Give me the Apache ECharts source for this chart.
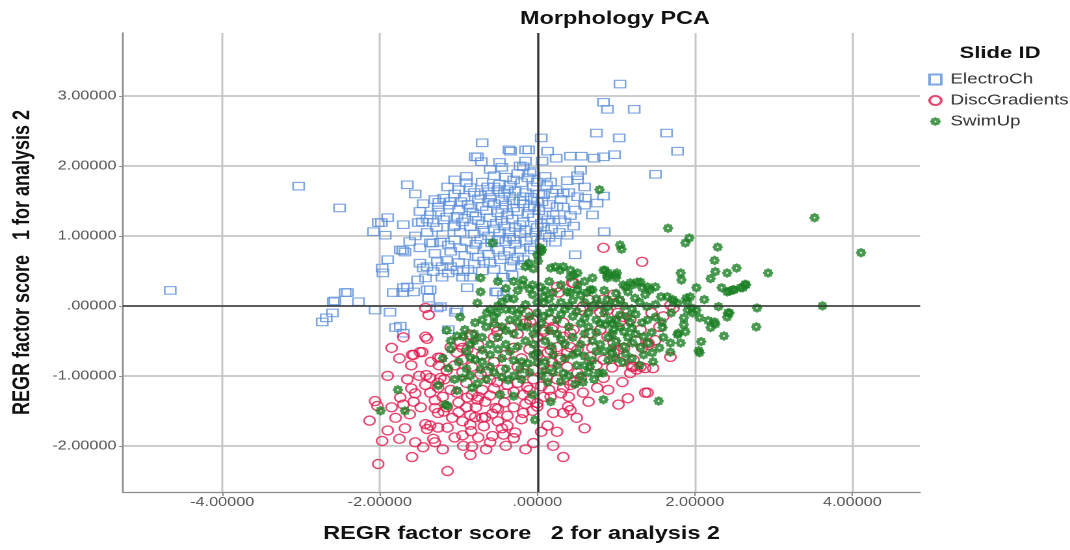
<!DOCTYPE html>
<html>
<head>
<meta charset="utf-8">
<script src="https://cdn.jsdelivr.net/npm/echarts@6/dist/echarts.min.js"></script>
<style>
html,body{margin:0;padding:0;background:#fff;overflow:hidden;}
#chart{width:823px;height:550px;transform:scaleX(1.30012);transform-origin:0 0;}
</style>
</head>
<body>
<div id="chart"></div>
<script>
// Tick positions shown on each axis
const xTicks = [-4, -2, 0, 2, 4];
const yTicks = [-2, -1, 0, 1, 2, 3];

// Factor scores [score 2, score 1] per slide group
const electroCh = [
  [-4.66,0.22],[-3.03,1.71],[-2.51,1.40],
  [-0.70,2.33],[-0.34,2.21],[-0.15,2.23],[-0.76,2.13],[-0.71,2.06],
  [-1.65,1.73],[-1.14,1.70],[-1.00,1.66],[-0.85,1.69],[-0.63,1.70],
  [-1.45,1.46],[-1.49,1.35],[-1.46,1.20],[-1.19,1.54],
  [-2.02,1.19],[-1.90,1.26],[-2.08,1.06],[-1.93,1.01],[-1.70,1.16],
  [-1.74,0.80],[-1.68,0.77],[-1.49,0.83],[-1.33,0.90],
  [-1.90,0.66],[-1.97,0.54],[-1.96,0.47],[-1.45,0.54],[-1.27,0.63],
  [-1.52,0.37],[-1.70,0.26],[-1.83,0.19],[-2.41,0.19],[-2.59,0.06],[-2.27,0.06],[-2.60,-0.10],[-2.06,-0.06],[-1.87,-0.09],
  [-1.36,0.23],[-1.21,0.41],[-1.10,0.56],[-0.95,0.41],[-0.89,0.26],[-0.53,0.20],[-0.43,0.41],[-1.02,-0.06],[-1.23,-0.01],
  [-2.73,-0.23],[-2.68,-0.17],[-1.74,-0.29],[-1.70,-0.39],
  [1.05,3.17],[0.84,2.91],[0.89,2.81],[1.23,2.81],[0.75,2.47],[1.04,2.40],[1.64,2.47],[1.78,2.21],[1.50,1.88],
  [0.98,2.16],[0.84,2.13],[0.72,2.11],[0.56,2.14],[0.42,2.14],[0.24,2.11],[0.13,2.21],[0.06,2.07],[0.05,2.40],[-0.11,2.23],[-0.36,2.23],[-0.79,2.13],
  [-0.15,2.07],[-0.22,2.00],[-0.25,1.89],[0.55,1.94],[0.51,1.86],
  [0.51,1.80],[0.38,1.79],[0.17,1.77],[0.00,1.77],
  [-0.18,1.99],[-0.09,1.90],[-0.05,1.92],
  [0.33,1.61],[0.19,1.61],[0.08,1.59],
  [0.51,1.56],[0.61,1.54],[0.76,1.47],[0.84,1.57],
  [0.48,1.37],[0.33,1.41],[0.42,1.29],[0.29,1.23],
  [0.13,1.23],[0.08,1.13],[0.46,1.14],
  [0.85,1.06],[0.38,1.01],[0.23,0.91],
  [-1.26,1.41],[-1.10,1.49],[-0.97,1.49],
  [-1.98,1.19],[-1.51,1.19],[-1.36,1.30],[-1.32,1.19],[-1.19,1.23],[-1.06,1.13],
  [-1.71,0.79],[-1.36,0.90],[-1.23,0.91],[-1.13,0.87],
  [-1.49,0.61],[-1.40,0.56],[-1.32,0.49],[-1.21,0.56],
  [-1.42,0.40],[-1.65,0.27],[-1.71,0.19],
  [-2.44,0.19],[-2.57,0.07],
  [-1.57,0.20],[-1.40,0.23],[-1.38,0.11],[-1.27,-0.03],
  [-1.04,-0.09],
  [-1.13,0.47],[-1.02,0.51],[-0.94,0.49],[-0.85,0.41],
  [-0.60,0.61],[-0.47,0.66],[-0.34,0.56],[-0.32,0.44],[-0.44,0.41],
  [-0.51,0.20],[-0.43,0.16],
  [-0.22,0.80],[-0.09,0.84],[-0.18,0.66],
  [0.48,0.73],
  [-1.80,-0.31],[-1.13,-0.34],
  [-0.60,1.95],[-0.45,1.98],[-0.48,2.05],
  [-0.55,1.86],[-0.40,1.84],[-0.30,1.80],[-0.12,1.83],[0.10,1.85],
  [-0.90,1.76],[-0.70,1.77],[-0.48,1.74],[-0.35,1.72],[-0.20,1.76],[-0.05,1.70],[0.12,1.72],
  [-1.05,1.60],[-0.80,1.62],[-0.62,1.63],[-0.50,1.66],[-0.42,1.60],[-0.28,1.64],[-0.15,1.62],[0.02,1.60],[0.24,1.66],
  [-1.30,1.52],[-0.93,1.55],[-0.75,1.53],[-0.60,1.55],[-0.45,1.52],[-0.35,1.57],[-0.22,1.50],[-0.08,1.55],[0.06,1.49],[0.30,1.52],
  [-1.12,1.44],[-0.88,1.45],[-0.70,1.42],[-0.55,1.46],[-0.40,1.44],[-0.30,1.40],[-0.18,1.46],[-0.04,1.42],[0.15,1.45],[0.60,1.44],
  [-1.25,1.34],[-1.00,1.37],[-0.82,1.33],[-0.65,1.36],[-0.50,1.33],[-0.38,1.30],[-0.25,1.35],[-0.12,1.32],[0.02,1.36],[0.20,1.30],
  [-1.40,1.24],[-1.15,1.27],[-0.92,1.25],[-0.75,1.22],[-0.60,1.26],[-0.45,1.22],[-0.32,1.24],[-0.18,1.20],[-0.05,1.26],[0.05,1.18],
  [-1.28,1.12],[-1.05,1.15],[-0.85,1.13],[-0.70,1.16],[-0.55,1.10],[-0.42,1.14],[-0.28,1.12],[-0.15,1.08],[0.00,1.12],[0.18,1.10],
  [-1.20,1.02],[-0.98,1.05],[-0.80,1.03],[-0.62,1.00],[-0.48,1.04],[-0.35,0.98],[-0.22,1.03],[-0.08,0.98],[0.10,1.02],[0.28,1.05],
  [-1.05,0.94],[-0.90,0.92],[-0.72,0.95],[-0.58,0.90],[-0.40,0.92],[-0.28,0.88],[-0.14,0.93],[0.05,0.90],
  [-0.98,0.83],[-0.82,0.80],[-0.66,0.84],[-0.50,0.80],[-0.35,0.78],[-0.04,0.80],
  [-0.92,0.72],[-0.75,0.70],[-0.62,0.74],[-0.42,0.72],[-0.25,0.70],
  [-1.00,0.62],[-0.80,0.60],[-0.68,0.64],[-0.20,0.58],
  [-0.95,1.20],[-0.78,1.28],[-0.68,1.08],[-0.52,1.18],[-0.36,1.06],[-0.22,1.16],[-0.10,1.40],[-0.30,1.50],[-0.45,1.38],
  [-0.62,1.48],[-0.85,1.40],[-1.02,1.28],[-0.72,1.58],[-0.55,1.70],[-0.38,1.66],[-0.18,1.56],[0.00,1.50],[0.10,1.30],
  [-0.02,1.05],[-0.30,0.95],[-0.50,0.95],[-0.78,0.88],[-1.10,0.78],[-1.30,0.75],[-1.15,0.65],[-0.88,0.52],[-0.70,0.50],
  [-0.55,0.52],[-0.30,0.64],[0.15,0.98],[0.35,1.20],[0.25,1.42],[0.40,1.62],[0.60,1.70],[0.70,1.30],[-1.55,1.00],
  [-1.40,1.05],[-1.62,0.92],[-1.25,1.48],[-1.55,1.60],[-0.90,1.85],[-1.05,1.80]
];

const discGradients = [
  [-2.06,-1.36],[-2.03,-1.43],[-2.13,-1.64],[-1.97,-1.93],[-2.02,-2.26],[-1.59,-2.16],[-1.14,-2.36],[0.33,-2.16],[-0.05,-1.96],
  [-0.94,-2.00],[-0.83,-2.01],[-0.57,-1.86],[-0.43,-1.84],[-0.30,-1.89],[-0.28,-1.81],[-0.38,-1.71],[-0.84,-1.79],[-1.32,-1.90],
  [-1.42,-1.69],[-1.36,-1.71],[-1.40,-1.76],[-1.26,-1.74],[-1.14,-1.74],[0.13,-1.71],
  [-0.66,-1.59],[-0.53,-1.46],[-0.50,-1.47],[-0.38,-1.57],
  [-0.18,-1.53],[-0.06,-1.50],[0.00,-1.44],
  [0.20,-1.53],[0.33,-1.53],[0.39,-1.44],[0.42,-1.49],
  [0.65,-1.37],[1.03,-1.41],[1.37,-1.24],[1.08,-1.09],[0.58,-1.24],[0.42,-1.13],[0.33,-1.17],
  [-1.70,-1.41],[-1.57,-1.37],[-1.74,-1.31],
  [-1.36,-1.24],[-1.30,-1.46],[-1.26,-1.53],[-1.19,-1.51],
  [-1.42,-1.13],[-1.26,-1.17],[-1.10,-1.20],[-1.02,-1.24],[-0.89,-1.31],[-0.83,-1.27],[-0.76,-1.34],[-0.66,-1.37],
  [-0.85,-1.56],[-0.79,-1.59],[-0.57,-1.54],
  [-1.41,-0.99],[-1.36,-1.03],[-1.23,-1.03],[-1.26,-1.10],
  [-1.49,-0.66],[-1.59,-0.70],[-1.26,-0.74],[-1.40,-0.47],
  [-1.10,-0.59],[-1.02,-0.67],[-0.95,-0.77],[-0.83,-0.43],
  [-0.98,-0.51],[-0.89,-0.63],[-0.75,-0.56],
  [-0.83,-0.87],[-0.64,-0.94],[-0.45,-0.91],[-0.25,-0.87],[-0.18,-0.96],[-0.05,-0.91],[0.08,-0.84],[0.19,-0.81],
  [-0.51,-1.09],[-0.38,-1.13],[-0.25,-1.10],[-0.13,-1.16],[-0.18,-1.27],[-0.30,-1.23],
  [-0.09,-1.34],[0.00,-1.39],[0.08,-1.30],[0.17,-1.30],
  [0.55,-1.03],[0.46,-1.09],[0.76,-1.17],[0.84,-1.03],
  [0.29,-0.74],[0.38,-0.67],[0.51,-0.63],[0.67,-0.73],[0.84,-0.77],[0.97,-0.67],[1.10,-0.60],
  [1.20,-0.87],[1.26,-0.91],[1.37,-0.89],
  [1.33,-0.60],[1.41,-0.56],
  [-0.51,-0.37],[-0.34,-0.31],
  [0.08,-0.34],[0.20,-0.30],[0.33,-0.24],[0.42,-0.39],
  [0.08,-0.53],[0.17,-0.63],
  [0.84,0.83],[1.33,0.63],[0.46,0.33],[0.25,0.27],[0.27,0.19],[0.97,0.16],[0.84,0.09],[1.03,0.06],[0.65,0.09],[0.58,-0.01],
  [-0.13,-0.10],[-0.06,-0.20],[1.73,-0.03],[1.69,0.01],[1.50,-0.49],[1.41,-0.53],[1.69,-0.73],
  [1.22,-0.87],[1.47,-0.89],[1.40,-1.24],
  [-1.42,-0.03],[-1.38,-0.13],[-1.42,-0.44],[-1.57,-0.70],[-1.46,-0.66],
  [-1.23,-0.74],[-0.95,-0.60],[-0.85,-0.41],[-0.53,-0.30],[-0.09,-0.23],
  [0.44,0.33],[0.71,-0.01],[1.02,-0.10],[1.05,-0.23],[0.17,-0.20],[0.08,-0.37],
  [0.55,-0.06],[0.80,-0.09],[0.89,-0.06],
  [0.46,-0.34],[0.67,-0.39],[0.80,-0.34],
  [1.09,-0.16],[1.18,-0.20],[1.31,-0.34],
  [0.89,-0.44],[0.97,-0.53],[1.02,-0.63],
  [0.19,-0.34],[0.33,-0.44],[0.25,-0.59],[0.42,-0.59],[0.13,-0.67],[0.29,-0.77],[0.38,-0.87],[0.17,-0.91],[0.51,-0.96],
  [1.22,-0.77],[1.31,-0.87],[1.18,-0.96],
  [-1.05,-0.85],[-0.95,-0.95],[-1.15,-0.92],[-1.20,-1.30],[-1.00,-1.38],[-0.90,-1.45],[-0.70,-1.20],[-0.60,-1.05],[-0.72,-0.98],
  [-0.55,-0.80],[-0.40,-0.70],[-0.30,-0.60],[-0.20,-0.75],[-0.10,-0.62],[0.00,-0.70],[-0.05,-1.05],[0.05,-1.15],[0.12,-1.02],
  [0.25,-1.05],[0.30,-1.25],[-0.42,-1.38],[-0.60,-1.28],[-0.78,-1.45],[-1.08,-1.60],[-0.95,-1.65],[-0.68,-1.72],[-0.20,-1.62],
  [0.05,-1.80],[-1.50,-1.00],[-1.60,-1.18],[-1.55,-1.25],[-1.85,-1.45],[-1.80,-1.60],[-1.68,-1.75],[-1.90,-1.78],[-1.75,-1.90],
  [-1.55,-1.95],[-1.45,-2.02],[-1.05,-1.88],[-0.95,-1.85],[-0.65,-2.05],[-0.40,-2.00],[-0.15,-2.05],[0.50,-1.60],[0.60,-1.75],
  [0.20,-2.00],[-0.85,-2.13],[-0.55,-0.45],[-0.70,-0.70],[-0.25,-0.40],[-0.15,-0.25],[0.00,-0.45],[0.60,-0.50],[0.70,-0.60],
  [0.75,-0.85],[0.95,-0.88],[1.05,-0.80],[0.90,-1.20],[1.15,-1.32],[1.25,-0.50],[1.55,-0.30],[1.60,-0.15],[1.45,-0.10],
  [-1.70,-0.45],[-1.85,-0.60],[-1.75,-0.75],[-1.60,-0.85],[-1.90,-1.00],
  [-1.30,-1.35],[-1.15,-1.45],[-1.00,-1.52],[-0.85,-1.70],[-0.70,-1.60],[-0.50,-1.65],[-0.30,-1.45],[-0.15,-1.40],[-1.25,-0.85],
  [-1.35,-0.80],[-1.18,-1.05],[-0.90,-1.10],[-0.75,-1.30],[-0.55,-1.18],[-0.40,-1.25],[-0.10,-1.20],[0.15,-1.20],[0.40,-1.30],
  [-1.30,-1.95],[-1.20,-2.05],[-0.75,-1.88],[-0.45,-1.75],[-0.60,-1.95],[0.25,-1.80],[-1.65,-1.05],[-1.48,-1.45],[-1.62,-1.55]
];

const swimUp = [
  [3.52,1.26],[4.11,0.76],[3.62,0.00],
  [1.66,1.11],[1.93,0.97],[1.88,0.90],[2.29,0.84],[2.25,0.65],[2.26,0.49],[2.41,0.47],[2.53,0.54],[2.20,0.39],[2.93,0.47],
  [2.64,0.31],[2.58,0.26],[2.48,0.23],[2.41,0.20],[2.44,0.21],[2.12,0.09],[2.30,-0.01],[2.79,-0.03],[2.78,-0.30],[2.37,-0.43],
  [2.41,-0.16],[2.44,-0.10],[2.17,-0.21],[2.26,-0.26],[2.20,-0.31],[2.08,-0.51],[2.05,-0.64],[2.06,-0.67],
  [2.02,0.26],[1.94,0.13],[1.89,0.11],[1.82,0.47],[1.83,0.37],
  [1.05,0.87],[1.07,0.81],[0.86,0.51],[0.89,0.43],[0.99,0.44],[1.00,0.40],
  [1.31,0.34],[1.33,0.26],[1.12,0.27],[1.21,0.30],[1.50,0.27],[1.43,0.23],[1.37,0.16],
  [1.65,0.13],[1.72,0.09],[1.78,0.04],[1.91,-0.06],[1.97,-0.10],[1.86,-0.17],
  [1.59,-0.31],[1.78,-0.41],[1.82,-0.53],[1.69,-0.53],[1.69,-0.66],[1.46,-0.67],[1.47,-0.80],
  [1.35,-0.44],[1.41,-0.53],[1.31,-0.59],[1.21,-0.53],[1.09,-0.81],[0.95,-0.67],
  [1.54,-1.36],[0.84,-1.34],[0.83,-0.96],
  [1.86,-0.27],[1.88,-0.37],[1.79,-0.39],[2.06,-0.17],[2.02,-0.06],[1.96,-0.03],
  [1.24,0.11],[1.39,-0.01],[1.20,-0.04],[1.05,-0.13],[0.92,-0.20],[0.86,-0.27],[0.97,-0.34],[1.10,-0.37],[1.18,-0.24],[1.33,-0.24],[1.50,-0.16],[1.58,-0.23],
  [0.89,0.09],[0.90,-0.01],[0.99,0.04],[1.05,0.09],
  [0.79,1.66],[0.04,0.83],
  [2.34,0.26],[2.50,0.23],[2.61,0.26],[2.65,0.30],[2.25,-0.23],[2.42,-0.10],
  [-0.03,-1.63],[0.17,-1.37],[-0.47,-1.27],[-0.30,-1.29],[-1.17,-1.41],[-1.26,-1.14],[-1.77,-1.20],[-1.99,-1.50],[-1.14,-1.43],
  [-1.02,-1.21],[-0.76,-1.11],[-0.83,-1.17],[-0.06,-1.27],[-1.68,-1.50],
  [-0.57,0.90],[0.04,0.77],[0.00,0.73],[-0.11,0.61],[-0.15,0.56],
  [-0.72,0.40],[-0.72,0.20],[-0.76,0.04],
  [-0.98,-0.16],[-0.79,-0.24],[-0.92,-0.34],[-0.94,-0.44],
  [0.23,0.56],[0.29,0.51],[0.42,0.51],[0.46,0.44],
  [-0.18,0.37],[-0.06,0.30],[0.04,0.27],[-0.06,0.16],[0.08,0.13],
  [0.20,0.19],[0.38,0.20],[0.51,0.23],[0.63,0.19],[0.70,0.23],
  [0.84,0.51],[0.90,0.47],[1.01,0.47],[0.89,0.40],
  [1.09,0.30],[1.18,0.33],[1.27,0.34],[1.40,0.27],[1.57,0.13],
  [1.73,0.06],[1.90,0.06],
  [-0.38,0.11],[-0.19,0.30],[-0.10,0.24],[-0.05,0.53],[0.01,0.64],[0.06,0.80],
  [-0.64,-0.10],[-0.51,-0.10],[-0.32,-0.06],[-0.25,-0.23],[-0.13,-0.30],[0.00,-0.10],[0.08,0.04],
  [0.17,0.54],[0.33,0.56],[0.42,0.41],[0.51,0.47],
  [0.67,0.23],[0.51,0.30],[0.42,0.19],
  [-1.13,-0.89],[-0.95,-1.03],[-0.72,-0.91],[-0.60,-0.87],
  [-0.70,-0.63],[-0.79,-0.77],[-0.85,-0.74],
  [-0.37,-1.06],[-0.22,-0.91],[0.00,-0.81],[0.00,-0.67],[0.13,-1.09],
  [0.33,-0.96],[0.58,-1.09],[0.67,-0.87],[0.78,-0.96],[0.51,-0.67],
  [-0.55,-0.15],[-0.45,-0.30],[-0.35,-0.20],[-0.20,-0.05],[-0.10,-0.15],[0.05,-0.25],[0.15,-0.10],[0.25,-0.20],[0.35,-0.05],
  [0.45,-0.15],[0.55,-0.25],[0.65,-0.10],[0.75,-0.20],[0.85,-0.10],[0.95,-0.25],[1.05,-0.30],[1.15,-0.15],
  [-0.50,-0.45],[-0.40,-0.55],[-0.30,-0.40],[-0.15,-0.50],[-0.05,-0.40],[0.10,-0.50],[0.25,-0.40],[0.35,-0.55],[0.45,-0.45],
  [0.60,-0.40],[0.70,-0.50],[0.80,-0.55],[0.90,-0.45],[1.00,-0.50],[1.15,-0.45],[1.25,-0.40],
  [-0.60,-0.70],[-0.45,-0.75],[-0.35,-0.65],[-0.20,-0.80],[-0.05,-0.70],[0.10,-0.80],[0.20,-0.70],[0.35,-0.75],[0.50,-0.85],
  [0.60,-0.72],[0.70,-0.78],[0.85,-0.65],[1.00,-0.75],[1.12,-0.68],
  [-0.55,-0.95],[-0.40,-0.90],[-0.30,-1.00],[-0.10,-0.95],[0.05,-1.00],[0.20,-0.95],[0.40,-1.00],[0.55,-1.00],[0.65,-0.95],
  [0.00,0.05],[0.15,0.10],[0.30,0.05],[0.45,0.08],[0.60,0.05],[0.75,0.10],[0.30,0.30],[0.60,0.35],[0.70,0.40],[0.15,0.35],
  [-0.30,0.10],[-0.45,0.05],[-0.40,-0.05],
  [-1.10,-0.62],[-1.20,-0.75],[-1.00,-0.80],[-0.85,-0.55],[-0.70,-0.45],[-0.65,-0.30],
  [-1.02,-0.43],[-1.10,-0.50],[-1.15,-0.35],
  [-0.25,0.22],[0.10,0.22],[0.55,0.15],[0.85,0.22],[1.00,0.18],[1.15,0.20],
  [-0.50,0.00],[-0.15,0.02],[0.20,-0.02],[0.40,0.00],[0.70,0.00],[0.80,0.02],[1.10,0.00],[1.30,0.05],[1.50,0.02],
  [-0.60,-0.05],[-0.25,-0.12],[0.08,-0.15],[0.30,-0.12],[0.50,-0.08],[0.60,-0.18],[0.80,-0.25],[1.00,-0.20],[1.25,-0.12],
  [1.40,-0.20],[1.70,-0.10],
  [-0.70,-0.20],[-0.40,-0.35],[-0.20,-0.30],[0.00,-0.32],[0.15,-0.35],[0.40,-0.30],[0.65,-0.30],[0.75,-0.38],[0.95,-0.40],
  [1.20,-0.32],[1.45,-0.38],[1.60,-0.45],
  [-0.80,-0.50],[-0.60,-0.55],[-0.25,-0.58],[-0.05,-0.55],[0.18,-0.58],[0.30,-0.48],[0.55,-0.55],[0.75,-0.65],[0.95,-0.60],
  [1.10,-0.58],[1.35,-0.70],[1.55,-0.60],
  [-0.90,-0.65],[-0.70,-0.80],[-0.50,-0.62],[-0.30,-0.78],[-0.12,-0.82],[0.25,-0.85],[0.45,-0.70],[0.60,-0.85],[0.90,-0.78],
  [1.20,-0.75],[1.30,-0.85],
  [-0.85,-1.00],[-0.65,-1.05],[-0.45,-1.02],[-0.20,-1.05],[0.10,-0.92],[0.30,-1.08],[0.48,-1.12],[0.72,-1.05],
  [-0.90,-0.90],[-1.05,-1.05],[-0.80,-0.40],[-0.55,-0.25],[-0.40,0.25],[-0.30,0.35],[-0.50,0.35]
];

const fmt = v => (v === 0 ? '.00000' : v.toFixed(5));
const FONT = '"Liberation Sans", Arial, sans-serif';

// eight-spoke sunburst with a small open centre
const gear = 'path://M50 0L65.3 13L85.4 14.6L87 34.7L100 50L87 65.3L85.4 85.4L65.3 87L50 100L34.7 87L14.6 85.4L13 65.3L0 50L13 34.7L14.6 14.6L34.7 13ZM50 41L43.6 43.6L41 50L43.6 56.4L50 59L56.4 56.4L59 50L56.4 43.6Z';

const chart = echarts.init(document.getElementById('chart'), null, { devicePixelRatio: 2 });

chart.setOption({
  animation: false,
  backgroundColor: '#fff',
  textStyle: { fontFamily: FONT },
  title: [
    { text: 'Morphology PCA', left: 395, top: 5,
      textStyle: { fontFamily: FONT, fontSize: 18, fontWeight: 'bold', color: '#111' } },
    { text: 'Slide ID', left: 733, top: 40,
      textStyle: { fontFamily: FONT, fontSize: 17, fontWeight: 'bold', color: '#111' } }
  ],
  legend: {
    orient: 'vertical', left: 709, top: 66,
    itemWidth: 9, itemHeight: 10, itemGap: 4,
    data: ['ElectroCh', 'DiscGradients', 'SwimUp'],
    textStyle: { fontFamily: FONT, fontSize: 14.5, color: '#333', lineHeight: 17, padding: [0, 0, 0, 2] }
  },
  grid: { left: 94.6, right: 115.3, top: 33, bottom: 58 },
  xAxis: {
    type: 'value', min: -5.26, max: 4.86,
    axisLine: { show: true, onZero: false, lineStyle: { color: '#8c8c8c', width: 1.3 } },
    axisTick: { show: true, customValues: xTicks, length: 4, lineStyle: { color: '#8c8c8c', width: 1 } },
    axisLabel: { customValues: xTicks, formatter: fmt, color: '#555', fontSize: 12.5, margin: 4, fontFamily: FONT },
    splitLine: { show: true, lineStyle: { color: '#c6c6c6', width: 1.5 } },
    name: 'REGR factor score   2 for analysis 2', nameLocation: 'middle', nameGap: 33,
    nameTextStyle: { fontFamily: FONT, fontSize: 18, fontWeight: 'bold', color: '#111' }
  },
  yAxis: {
    type: 'value', min: -2.66, max: 3.9,
    axisLine: { show: true, onZero: false, lineStyle: { color: '#8c8c8c', width: 1.3 } },
    axisTick: { show: true, customValues: yTicks, length: 3, lineStyle: { color: '#8c8c8c', width: 1 } },
    axisLabel: { customValues: yTicks, formatter: fmt, color: '#555', fontSize: 12.5, margin: 5, fontFamily: FONT },
    splitLine: { show: true, lineStyle: { color: '#c6c6c6', width: 1.8 } },
    name: 'REGR factor score   1 for analysis 2', nameLocation: 'middle', nameGap: 68,
    nameTextStyle: { fontFamily: FONT, fontSize: 18, fontWeight: 'bold', color: '#111' }
  },
  series: [
    {
      name: 'ElectroCh', type: 'scatter', data: electroCh,
      symbol: 'rect', symbolSize: [8.5, 7.5],
      itemStyle: { color: 'rgba(255,255,255,0)', borderColor: '#5b8fd9', borderWidth: 1.2 }
    },
    {
      name: 'DiscGradients', type: 'scatter', data: discGradients,
      symbol: 'circle', symbolSize: [8.5, 9],
      itemStyle: { color: 'rgba(255,255,255,0)', borderColor: '#e21a4f', borderWidth: 1.4 }
    },
    {
      name: 'SwimUp', type: 'scatter', data: swimUp,
      symbol: gear, symbolSize: [8.5, 10],
      itemStyle: { color: '#1b7f24' }
    },
    {
      // reference lines through the origin
      name: 'origin', type: 'scatter', data: [], z: 5, silent: true,
      markLine: {
        silent: true, symbol: ['none', 'none'], label: { show: false },
        lineStyle: { color: '#333', width: 1.6, type: 'solid' },
        data: [{ xAxis: 0 }, { yAxis: 0 }]
      }
    }
  ]
});
</script>
</body>
</html>
